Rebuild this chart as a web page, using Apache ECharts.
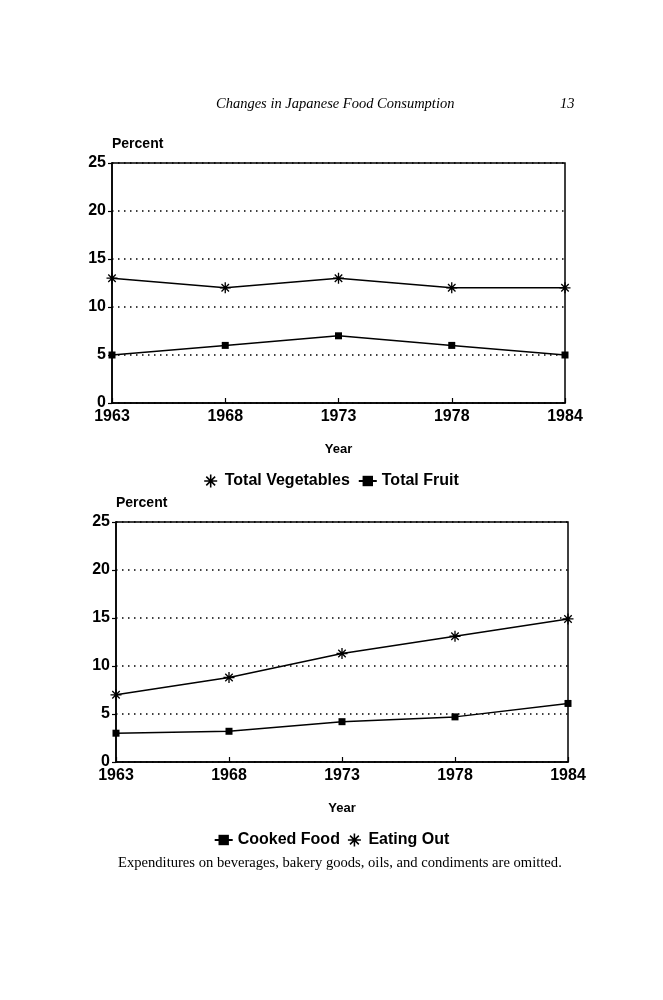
<!DOCTYPE html>
<html>
<head>
<meta charset="utf-8">
<script src="https://cdn.jsdelivr.net/npm/echarts@6/dist/echarts.min.js"></script>
<style>
html,body{margin:0;padding:0;background:#fff;}
#chart{width:663px;height:1000px;}
</style>
</head>
<body>
<div id="chart"></div>
<script>
var years = ['1963', '1968', '1973', '1978', '1984'];
var yTicks = [0, 5, 10, 15, 20, 25];
var totalVegetables = [13, 12, 13, 12, 12];
var totalFruit = [5, 6, 7, 6, 5];
var cookedFood = [3.0, 3.2, 4.2, 4.7, 6.1];
var eatingOut = [7.0, 8.8, 11.3, 13.1, 14.9];

var star = 'path://M4.4,0L5.6,0L5.6,10L4.4,10Z' +
  'M0,4.4L10,4.4L10,5.6L0,5.6Z' +
  'M2.02,1.18L8.82,7.98L7.98,8.82L1.18,2.02Z' +
  'M7.98,1.18L8.82,2.02L2.02,8.82L1.18,7.98Z';
var SANS = 'Liberation Sans, Arial, sans-serif';
var SERIF = 'Liberation Serif, Times New Roman, serif';

function xAx(gi) {
  return {
    type: 'category', gridIndex: gi, data: years, boundaryGap: false,
    axisLine: { lineStyle: { color: '#000', width: 1.5 } },
    axisTick: { inside: true, length: 5, alignWithLabel: true, lineStyle: { color: '#000', width: 1.2 } },
    axisLabel: { color: '#000', fontFamily: SANS, fontWeight: 'bold', fontSize: 16, margin: 6 },
    name: 'Year', nameLocation: 'middle', nameGap: 40,
    nameTextStyle: { color: '#000', fontFamily: SANS, fontWeight: 'bold', fontSize: 13 },
    splitLine: { show: false }
  };
}
function yAx(gi) {
  return {
    type: 'value', gridIndex: gi, min: yTicks[0], max: yTicks[yTicks.length - 1], interval: 5,
    axisLine: { show: true, lineStyle: { color: '#000', width: 1.5 } },
    axisTick: { show: true, length: 4, lineStyle: { color: '#000', width: 1.2 } },
    axisLabel: { color: '#000', fontFamily: SANS, fontWeight: 'bold', fontSize: 16, margin: 6 },
    splitLine: { show: true, lineStyle: { color: '#000', width: 1.5, type: [1.5, 4.5] } },
    name: 'Percent', nameLocation: 'end', nameGap: 12,
    nameTextStyle: { color: '#000', fontFamily: SANS, fontWeight: 'bold', fontSize: 14, align: 'left' }
  };
}
var lineStyle = { color: '#000', width: 1.5 };

var chart = echarts.init(document.getElementById('chart'), null, { renderer: 'canvas' });
chart.setOption({
  backgroundColor: '#fff',
  animation: false,
  grid: [
    { left: 112, right: 98, top: 163, height: 240, show: true, borderColor: '#000', borderWidth: 1.5 },
    { left: 116, right: 95, top: 522, height: 240, show: true, borderColor: '#000', borderWidth: 1.5 }
  ],
  xAxis: [xAx(0), xAx(1)],
  yAxis: [yAx(0), yAx(1)],
  legend: [
    {
      top: 468, left: 'center', itemGap: 8, itemWidth: 18, itemHeight: 13,
      textStyle: { color: '#000', fontFamily: SANS, fontWeight: 'bold', fontSize: 16 },
      data: [{ name: 'Total Vegetables', icon: star }, { name: 'Total Fruit' }]
    },
    {
      top: 827, left: 'center', itemGap: 8, itemWidth: 18, itemHeight: 13,
      textStyle: { color: '#000', fontFamily: SANS, fontWeight: 'bold', fontSize: 16 },
      data: [{ name: 'Cooked Food' }, { name: 'Eating Out', icon: star }]
    }
  ],
  series: [
    { name: 'Total Vegetables', type: 'line', xAxisIndex: 0, yAxisIndex: 0, data: totalVegetables,
      symbol: star, symbolSize: 11, itemStyle: { color: '#000' }, lineStyle: lineStyle },
    { name: 'Total Fruit', type: 'line', xAxisIndex: 0, yAxisIndex: 0, data: totalFruit,
      symbol: 'rect', symbolSize: 7, itemStyle: { color: '#000' }, lineStyle: lineStyle },
    { name: 'Cooked Food', type: 'line', xAxisIndex: 1, yAxisIndex: 1, data: cookedFood,
      symbol: 'rect', symbolSize: 7, itemStyle: { color: '#000' }, lineStyle: lineStyle },
    { name: 'Eating Out', type: 'line', xAxisIndex: 1, yAxisIndex: 1, data: eatingOut,
      symbol: star, symbolSize: 11, itemStyle: { color: '#000' }, lineStyle: lineStyle }
  ],
  graphic: [
    { type: 'text', left: 216, top: 97, style: { text: 'Changes in Japanese Food Consumption',
      font: 'italic 14.5px ' + SERIF, fill: '#000' } },
    { type: 'text', left: 560, top: 97, style: { text: '13', font: 'italic 14.5px ' + SERIF, fill: '#000' } },
    { type: 'text', left: 118, top: 856, style: { text: 'Expenditures on beverages, bakery goods, oils, and condiments are omitted.',
      font: '14.6px ' + SERIF, fill: '#000' } }
  ]
});
</script>
</body>
</html>
